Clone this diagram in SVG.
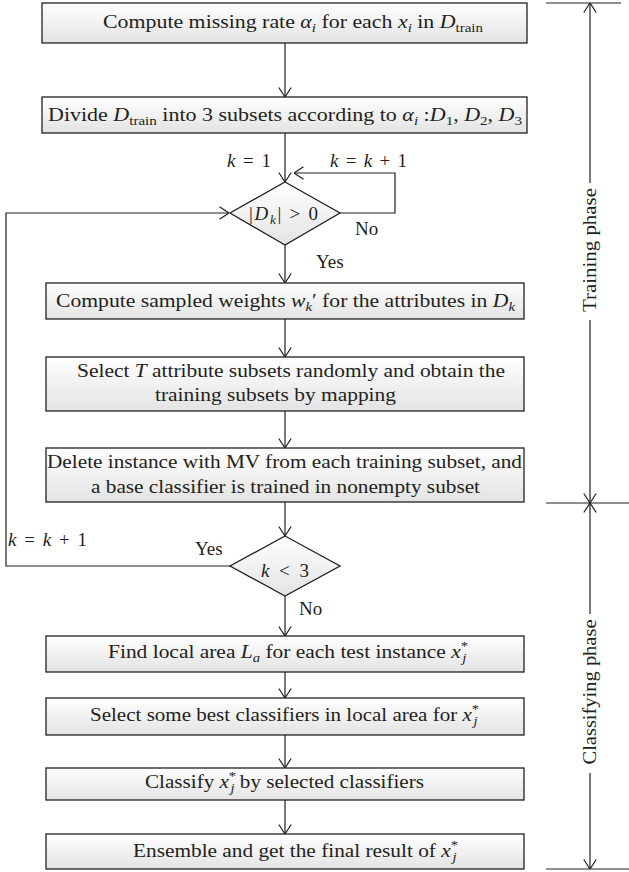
<svg xmlns="http://www.w3.org/2000/svg" width="629" height="872" viewBox="0 0 629 872">
<defs>
<linearGradient id="bg" x1="0" y1="0" x2="0" y2="1"><stop offset="0" stop-color="#ffffff"/><stop offset="1" stop-color="#e3e3e3"/></linearGradient>
<marker id="ah" markerUnits="userSpaceOnUse" viewBox="0 0 10 14" refX="10" refY="7" markerWidth="10" markerHeight="14" orient="auto"><path d="M0.5,0.8 L10,7 L0.5,13.2" fill="none" stroke="#231f20" stroke-width="1.2"/></marker>
</defs>
<style>
.box{fill:url(#bg);stroke:#231f20;stroke-width:1.3}
.dia{fill:url(#bg);stroke:#231f20;stroke-width:1.3}
.ln{fill:none;stroke:#231f20;stroke-width:1.2}
.ar{marker-end:url(#ah)}
text{font-family:"Liberation Serif","Times New Roman",serif;font-size:19px;fill:#231f20}
.it{font-style:italic}
.sb{font-size:13px}
</style>
<rect width="629" height="872" fill="#fff"/>
<g id="connectors">
<path class="ln ar" d="M285,43 V97"/>
<path class="ln ar" d="M285,133 V182"/>
<path class="ln ar" d="M340,213 H395 V173 H294"/>
<path class="ln ar" d="M285,245 V283"/>
<path class="ln ar" d="M285,319 V357"/>
<path class="ln ar" d="M285,411 V448"/>
<path class="ln ar" d="M285,502 V536"/>
<path class="ln ar" d="M230,566 H6 V213 H229"/>
<path class="ln ar" d="M285,596 V636"/>
<path class="ln ar" d="M285,672 V698"/>
<path class="ln ar" d="M285,735 V768"/>
<path class="ln ar" d="M285,800 V834"/>
</g>
<g id="phase-axis">
<path class="ln" d="M546,3 H621"/>
<path class="ln ar" d="M590,183 V3"/>
<path class="ln ar" d="M590,320 V503"/>
<path class="ln" d="M546,503 H629"/>
<path class="ln ar" d="M590,614 V503"/>
<path class="ln ar" d="M590,773 V869"/>
<path class="ln" d="M546,869 H629"/>
<text transform="translate(596,250) rotate(-90)" text-anchor="middle" textLength="124" lengthAdjust="spacingAndGlyphs">Training phase</text>
<text transform="translate(596,692) rotate(-90)" text-anchor="middle" textLength="145" lengthAdjust="spacingAndGlyphs">Classifying phase</text>
</g>
<g id="n1">
<rect class="box" x="42" y="3" width="485" height="40"/>
<text x="103" y="28" textLength="380" lengthAdjust="spacingAndGlyphs">Compute missing rate <tspan class="it">α</tspan><tspan class="sb it" dy="4">i</tspan><tspan dy="-4"> for each </tspan><tspan class="it">x</tspan><tspan class="sb it" dy="4">i</tspan><tspan dy="-4"> in </tspan><tspan class="it">D</tspan><tspan class="sb" dy="4">train</tspan></text>
</g>
<g id="n2">
<rect class="box" x="42" y="97" width="485" height="36"/>
<text x="48" y="121" textLength="474" lengthAdjust="spacingAndGlyphs">Divide <tspan class="it">D</tspan><tspan class="sb" dy="4">train</tspan><tspan dy="-4">  into 3 subsets according to </tspan><tspan class="it">α</tspan><tspan class="sb it" dy="4">i</tspan><tspan dy="-4"> :</tspan><tspan class="it">D</tspan><tspan class="sb" dy="4">1</tspan><tspan dy="-4">, </tspan><tspan class="it">D</tspan><tspan class="sb" dy="4">2</tspan><tspan dy="-4">, </tspan><tspan class="it">D</tspan><tspan class="sb" dy="4">3</tspan></text>
</g>
<g id="labels-top">
<text x="227" y="167" textLength="44"><tspan class="it">k</tspan> = 1</text>
<text x="330" y="167" textLength="77"><tspan class="it">k</tspan> = <tspan class="it">k</tspan> + 1</text>
<text x="355" y="235">No</text>
<text x="316" y="268">Yes</text>
</g>
<g id="d1">
<polygon class="dia" points="285,182 340,213 285,245 230,213"/>
<text x="249" y="220" textLength="69">|<tspan class="it">D</tspan><tspan class="sb it" dy="4">k</tspan><tspan dy="-4">| &gt; 0</tspan></text>
</g>
<g id="n3">
<rect class="box" x="46" y="283" width="478" height="36"/>
<text x="56" y="307" textLength="459" lengthAdjust="spacingAndGlyphs">Compute sampled weights <tspan class="it">w</tspan><tspan class="sb it" dy="4">k</tspan><tspan dy="-4">′ for the attributes in </tspan><tspan class="it">D</tspan><tspan class="sb it" dy="4">k</tspan></text>
</g>
<g id="n4">
<rect class="box" x="46" y="357" width="478" height="54"/>
<text x="77" y="377" textLength="428" lengthAdjust="spacingAndGlyphs">Select <tspan class="it">T</tspan> attribute subsets randomly and obtain the</text>
<text x="155" y="401" textLength="241" lengthAdjust="spacingAndGlyphs">training subsets by mapping</text>
</g>
<g id="n5">
<rect class="box" x="46" y="448" width="478" height="54"/>
<text x="47" y="468" textLength="475" lengthAdjust="spacingAndGlyphs">Delete instance with MV from each training subset, and</text>
<text x="91" y="493" textLength="389" lengthAdjust="spacingAndGlyphs">a base classifier is trained in nonempty subset</text>
</g>
<g id="d2">
<polygon class="dia" points="285,536 340,566 285,596 230,566"/>
<text x="261" y="577" textLength="48"><tspan class="it">k</tspan> &lt; 3</text>
</g>
<g id="labels-bottom">
<text x="8" y="546" textLength="79"><tspan class="it">k</tspan> = <tspan class="it">k</tspan> + 1</text>
<text x="195" y="555">Yes</text>
<text x="299" y="615">No</text>
</g>
<g id="n6">
<rect class="box" x="46" y="636" width="478" height="36"/>
<text x="108" y="658" textLength="360" lengthAdjust="spacingAndGlyphs">Find local area <tspan class="it">L</tspan><tspan class="sb it" dy="4">a</tspan><tspan dy="-4"> for each test instance </tspan><tspan class="it">x</tspan><tspan class="sb" dy="-8">*</tspan><tspan class="sb it" dx="-5" dy="12">j</tspan></text>
</g>
<g id="n7">
<rect class="box" x="46" y="698" width="478" height="37"/>
<text x="90" y="721" textLength="389" lengthAdjust="spacingAndGlyphs">Select some best classifiers in local area for <tspan class="it">x</tspan><tspan class="sb" dy="-8">*</tspan><tspan class="sb it" dx="-5" dy="12">j</tspan></text>
</g>
<g id="n8">
<rect class="box" x="46" y="768" width="478" height="32"/>
<text x="145" y="788" textLength="279" lengthAdjust="spacingAndGlyphs">Classify <tspan class="it">x</tspan><tspan class="sb" dy="-8">*</tspan><tspan class="sb it" dx="-5" dy="12">j</tspan><tspan dy="-4"> by selected classifiers</tspan></text>
</g>
<g id="n9">
<rect class="box" x="46" y="834" width="478" height="35"/>
<text x="133" y="857" textLength="325" lengthAdjust="spacingAndGlyphs">Ensemble and get the final result of <tspan class="it">x</tspan><tspan class="sb" dy="-8">*</tspan><tspan class="sb it" dx="-5" dy="12">j</tspan></text>
</g>
</svg>
